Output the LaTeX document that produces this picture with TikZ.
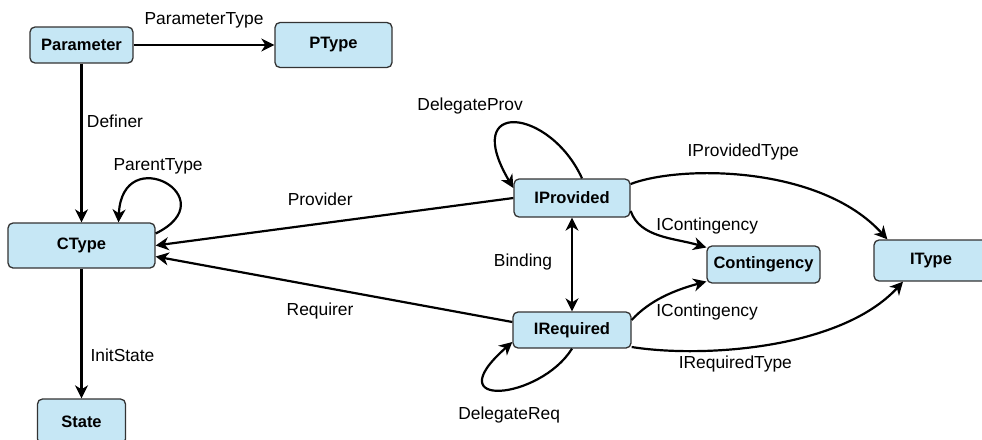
\documentclass[tikz,border=0pt]{standalone}
\usepackage{fontspec}
\setmainfont{Liberation Sans}
\usetikzlibrary{positioning,arrows.meta}
\definecolor{boxfill}{RGB}{198,231,245}
\definecolor{boxline}{RGB}{51,51,51}

\begin{document}
\begin{tikzpicture}[x=1pt,y=-1pt]
        % Define styles for nodes and edges
        \tikzstyle{cls} = [rectangle, rounded corners=5pt, draw=boxline, line width=1.3pt, fill=boxfill, font=\fontsize{16.5}{19}\selectfont\bfseries, inner sep=0pt]
        \tikzstyle{lbl} = [font=\fontsize{17.4}{20}\selectfont, inner sep=0pt]
        \tikzstyle{arrow} = [line width=2.2pt, -{Stealth[length=13pt,width=13pt,inset=4pt]}]
        \tikzstyle{biarrow} = [line width=2.2pt, {Stealth[length=13pt,width=13pt,inset=4pt]}-{Stealth[length=13pt,width=13pt,inset=4pt]}]

        \useasboundingbox (0,0) rectangle (982,439);

        % Nodes
        \node[cls, minimum width=103pt, minimum height=36pt] (param) at (81.5,45) {Parameter};
        \node[cls, minimum width=117pt, minimum height=45pt, right of=param, node distance=252pt] (ptype) {PType};
        \node[cls, minimum width=147pt, minimum height=45pt, below of=param, node distance=200.5pt] (ctype) {CType};
        \node[cls, minimum width=88pt, minimum height=45pt, below of=ctype, node distance=176pt] (state) {State};
        \node[cls, minimum width=116pt, minimum height=38pt] (iprov) at (572,198) {IProvided};
        \node[cls, minimum width=118pt, minimum height=36pt] (ireq) at (572,330) {IRequired};
        \node[cls, minimum width=113pt, minimum height=37pt] (conting) at (763.5,264.5) {Contingency};
        \node[cls, minimum width=114pt, minimum height=41pt] (itype) at (931,260.5) {IType};

        % Arrows
        \draw[arrow] (param) -- node[lbl, yshift=25pt] {ParameterType} (ptype);
        \draw[arrow] (param) -- node[lbl, pos=0.36, xshift=33.5pt] {Definer} (ctype);
        \draw[arrow] ([yshift=12pt]ctype.east) .. controls (228,198) and (122,140) .. node[lbl, xshift=-7.4pt, yshift=17.8pt] {ParentType} ([xshift=37pt]ctype.north);
        \draw[arrow] (ctype) -- node[lbl, pos=0.67, xshift=41pt] {InitState} (state);
        \draw[arrow] (iprov.west) -- node[lbl, pos=0.54, yshift=24.7pt] {Provider} (ctype.east);
        \draw[arrow] ([yshift=8pt]ireq.west) -- node[lbl, pos=0.539, yshift=-24.5pt] {Requirer} ([yshift=-11pt]ctype.east);
        \draw[biarrow] (iprov) -- node[lbl, xshift=-49pt, yshift=2.5pt] {Binding} (ireq);

        % Self loops
        \draw[arrow] ([xshift=10pt]iprov.north) .. controls (550,108) and (460,98) .. node[lbl, xshift=-45.5pt, yshift=17pt] {DelegateProv} ([yshift=10pt]iprov.west);
        \draw[arrow] (ireq.south) .. controls (540,400) and (435,410) .. node[lbl, xshift=8pt, yshift=-25pt] {DelegateReq} ([yshift=-12pt]ireq.west);

        % Curved arrows to the right
        \draw[arrow] ([yshift=14pt]iprov.east) .. controls (680,165) and (820,165) .. node[lbl, xshift=-9pt, yshift=24.75pt] {IProvidedType} ([xshift=14pt]itype.north west);
        \draw[arrow] ([yshift=-13pt]iprov.east) .. controls (640,238) and (675,238) .. node[lbl, xshift=47pt, yshift=9.8pt] {IContingency} ([yshift=17pt]conting.west);
        \draw[arrow] ([yshift=10pt]ireq.east) .. controls (650,300) and (675,290) .. node[lbl, xshift=43pt, yshift=-15.6pt] {IContingency} ([yshift=-17pt]conting.west);
        \draw[arrow] ([yshift=-17pt]ireq.east) .. controls (700,358) and (840,350) .. node[lbl, xshift=-34pt, yshift=-20pt] {IRequiredType} ([xshift=-28pt]itype.south);
\end{tikzpicture}
\end{document}
